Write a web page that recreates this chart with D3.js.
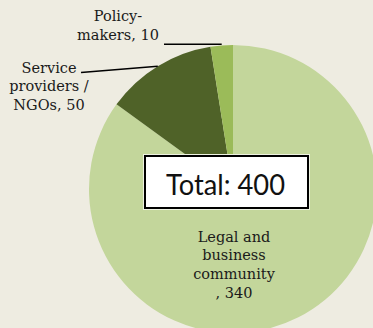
<!DOCTYPE html>
<html>
<head>
<meta charset="utf-8">
<script src="https://cdn.jsdelivr.net/npm/d3@7"></script>
<style>
  html, body { margin: 0; padding: 0; background: #EEECE1; }
  svg { display: block; }
  .lbl { font-family: "DejaVu Serif", serif; font-size: 14.5px; fill: #1a1a1a; }
</style>
</head>
<body>
<svg id="chart" width="373" height="328"></svg>
<script>
// Audience breakdown
const categories = ["Legal and business community", "Service providers / NGOs", "Policy-makers"];
const values = [340, 50, 10];
const labelLines = [
  ["Legal and", "business", "community", ", 340"],
  ["Service", "providers /", "NGOs, 50"],
  ["Policy-", "makers, 10"]
];
const colors = ["#C3D69B", "#4F6228", "#9BBB59"];
const totalLabel = "Total: " + d3.sum(values);

const svg = d3.select("#chart");
const cx = 233, cy = 189, r = 144;

const pie = d3.pie().sort(null).value(d => d.value);
const arcs = pie(categories.map((c, i) => ({ name: c, value: values[i], lines: labelLines[i] })));
const arc = d3.arc().innerRadius(0).outerRadius(r);

const g = svg.append("g").attr("transform", `translate(${cx},${cy})`);
g.selectAll("path")
  .data(arcs)
  .join("path")
  .attr("d", arc)
  .attr("fill", (d, i) => colors[i]);

// point on the rim at a slice's middle angle
function rim(d) {
  const a = (d.startAngle + d.endAngle) / 2;
  return [cx + r * Math.sin(a), cy - r * Math.cos(a)];
}

// label placement: center x, first baseline, leader start, whether the leader is level
const placement = [
  { x: 234, y: 241.5, inside: true },
  { x: 49, y: 72.5, lx: 81, ly: 72.5, level: false },
  { x: 118, y: 20.7, lx: 164, ly: 44.3, level: true }
];
const lineH = 18.9;

arcs.forEach((d, i) => {
  const p = placement[i];
  if (!p.inside) {
    const [ex, ey] = rim(d);
    svg.append("path")
      .attr("d", `M${p.lx},${p.ly}L${ex},${p.level ? p.ly : ey}`)
      .attr("stroke", "#000")
      .attr("stroke-width", 1.6)
      .attr("fill", "none");
  }
  const t = svg.append("text")
    .attr("class", "lbl")
    .attr("text-anchor", "middle");
  d.data.lines.forEach((ln, k) => {
    t.append("tspan")
      .attr("x", p.x)
      .attr("y", p.y + k * lineH)
      .text(ln);
  });
});

// total box
const bx = 145, by = 156, bw = 163, bh = 52;
svg.append("rect")
  .attr("x", bx - 1.5).attr("y", by - 1.5)
  .attr("width", bw + 3).attr("height", bh + 3)
  .attr("fill", "none")
  .attr("stroke", "#EEF3E2")
  .attr("stroke-width", 1);
svg.append("rect")
  .attr("x", bx).attr("y", by)
  .attr("width", bw).attr("height", bh)
  .attr("fill", "#fff")
  .attr("stroke", "#000")
  .attr("stroke-width", 2);
svg.append("text")
  .attr("x", bx + bw / 2 - 1)
  .attr("y", 195)
  .attr("text-anchor", "middle")
  .attr("font-family", "Lato, 'Open Sans', sans-serif")
  .attr("font-size", 29)
  .attr("font-weight", 400)
  .attr("textLength", 119)
  .attr("lengthAdjust", "spacingAndGlyphs")
  .attr("fill", "#111")
  .text(totalLabel);
</script>
</body>
</html>
